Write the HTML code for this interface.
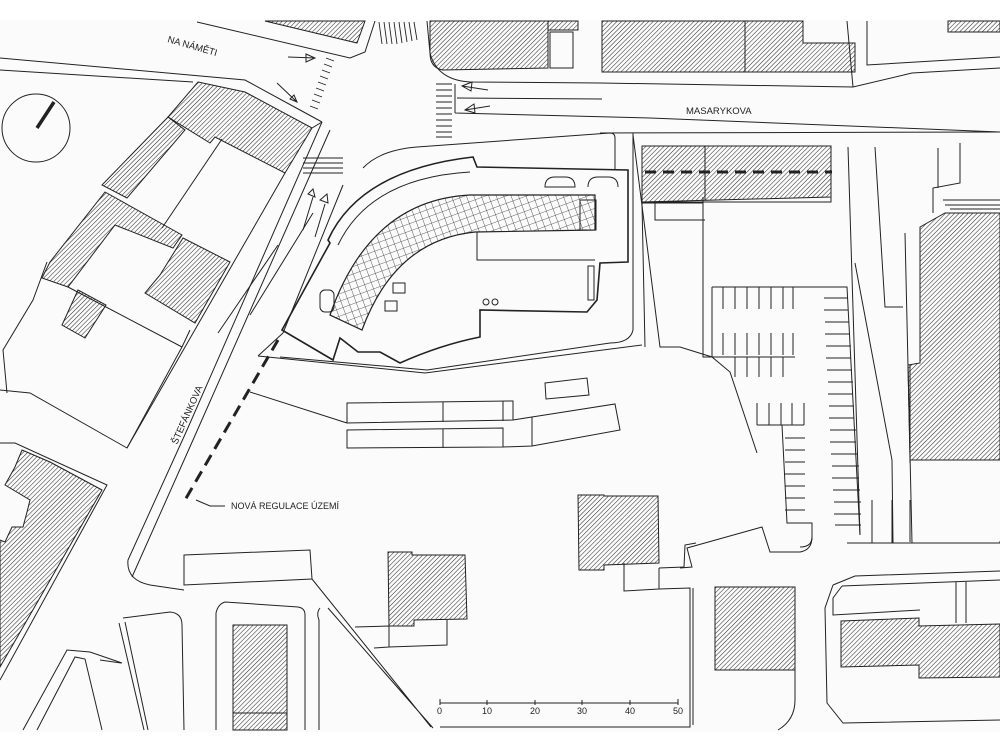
<!DOCTYPE html>
<html><head><meta charset="utf-8"><style>
html,body{margin:0;padding:0;background:#fff;}
svg{display:block;}
text{font-family:"Liberation Sans",sans-serif;fill:#222;}
</style></head><body>
<svg width="1000" height="750" viewBox="0 0 1000 750" xmlns="http://www.w3.org/2000/svg">
<defs>
<pattern id="h" width="3.2" height="3.2" patternUnits="userSpaceOnUse" patternTransform="rotate(45)">
<line x1="0" y1="0" x2="0" y2="3.2" stroke="#222" stroke-width="1"/></pattern>
<pattern id="g" width="7" height="7" patternUnits="userSpaceOnUse" patternTransform="rotate(-20)">
<path d="M0 0H7M0 0V7" stroke="#333" stroke-width="0.8" fill="none"/></pattern>
</defs>
<rect width="1000" height="750" fill="#fff"/>
<rect x="0" y="20" width="1000" height="712" fill="#fbfbfb"/>
<g fill="none" stroke="#222" stroke-width="1">
<!-- Na Namesti road -->
<path d="M197 22L350 58L365 52L375 21"/>
<path d="M0 58L245 80L300 110L322 122"/>
<path d="M0 70L193 82"/>
<!-- top-left hatched -->
<polygon points="265,21 365,21 357,43" fill="url(#h)"/>
<!-- crosswalks -->
<g stroke-width="0.9">
<path d="M306 58l8 3M304 64l8 3M302 70l8 3M300 76l8 3M298 82l8 3M296 88l8 3M294 94l8 3M292 100l8 3M290 106l8 3" transform="translate(20,0)"/>
<path d="M379 22l3 22M384 22l3 22M389 22l3 22M394 22l3 22M399 22l3 21M404 22l3 20M409 22l3 19M414 22l3 18"/>
<path d="M436 84h16M436 90h16M436 96h16M436 102h16M436 108h16M436 114h16M436 120h16M436 126h16M436 132h16M436 137h16"/>
<path d="M303 158h40M303 163h40M303 168h40M303 173h40" />
</g>
<!-- arrows -->
<path d="M288 57l27 1M306 54l9 4l-9 4z"/>
<path d="M277 83l20 19M290 99l7 3l-3 -7z"/>
<path d="M488 90l-26 -4M472 82l-10 4l9 5z"/>
<path d="M490 106l-25 4M474 104l-9 6l10 3z"/>
<path d="M303 230l10 -33M308 194l5 -5l2 8z"/>
<path d="M315 237l10 -33M320 200l7 -6l1 9z"/>
<!-- Masarykova -->
<path d="M427 21L430 53Q437 80 470 82L600 83L853 87L912 73L1000 68"/>
<path d="M867 21L867 65L1000 57"/>
<path d="M847 21L853 87"/>
<path d="M455 113L455 84M455 113L650 118L1000 132"/>
<path d="M457 98L602 99"/>
<path d="M600 133L1000 132"/>
<!-- top buildings -->
<path d="M430 21L548 21L548 68L443 70Q430 68 430 53Z" fill="url(#h)"/>
<rect x="548" y="21" width="30" height="9" fill="url(#h)"/>
<rect x="550" y="32" width="23" height="36"/>
<path d="M602 21L803 21L803 43L855 43L855 72L602 72Z" fill="url(#h)"/>
<path d="M745 21V72"/>
<path d="M948 21h52v11h-52z" fill="url(#h)"/>
<!-- compass -->
<circle cx="36" cy="128" r="34"/>
<line x1="37" y1="128" x2="54" y2="102" stroke-width="3.5"/>
<!-- left block hatched -->
<polygon points="198,82 245,92 312,128 285,173 215,137 210,143 168,117" fill="url(#h)"/>
<polygon points="168,117 185,130 127,198 102,185" fill="url(#h)"/>
<polygon points="105,192 182,235 173,248 115,225 68,287 42,278 50,262" fill="url(#h)"/>
<polygon points="183,238 230,262 195,323 145,293 160,275" fill="url(#h)"/>
<polygon points="78,290 106,305 85,338 62,325" fill="url(#h)"/>
<path d="M312 128L322 122M222 139L162 228M68 287L182 347L127 448L30 393L0 390M182 347L190 330"/>
<path d="M47 262L33 300L3 350L7 393"/>
<!-- Stefankova -->
<path d="M322 122L187 430L128 560Q126 580 150 585L184 590"/>
<path d="M330 130L193 440L132 577"/>
<path d="M285 173L127 448"/>
<path d="M218 333L278 245M250 315L313 213"/>
<path d="M343 185L283 333"/>
<path d="M283 333L258 356"/>
<!-- dashed regulation lines -->
<path d="M278 340L185 500" stroke-width="3" stroke-dasharray="12,7"/>
<path d="M645 172H832" stroke-width="3" stroke-dasharray="11,7"/>
<path d="M196 500L210 506H225"/>
<!-- plot around central building -->
<path d="M363 168Q380 150 417 147L610 133Q615 133 615 138V170"/>
<path d="M633 133V330Q630 343 610 343L427 370L280 357"/>
<path d="M258 356L425 373L642 345"/>
<!-- central building -->
<path d="M282 330L333 360L340 338L358 352L380 352L400 363Q440 345 480 337L480 310L587 312L597 300L600 263L628 262L628 170L477 167L473 157Q360 170 328 240L330 243Z" stroke-width="1.6"/>
<path d="M338 245Q370 178 470 172" />
<path d="M595 195L470 195Q370 200 330 315L362 330Q395 240 475 232L595 230Z" fill="url(#g)" stroke-width="1.2"/>
<path d="M477 232V260H595"/>
<path d="M545 187q0 -10 10 -10h10q10 0 10 10z"/><path d="M588 187q0 -10 10 -10h10q10 0 10 10"/>
<rect x="580" y="200" width="16" height="30"/>
<path d="M588 266V300h6V266z"/>
<circle cx="486" cy="302" r="3"/><circle cx="495" cy="302" r="3"/>
<rect x="393" y="283" width="12" height="10"/><rect x="385" y="301" width="12" height="10"/>
<rect x="320" y="290" width="14" height="22" rx="5"/>
<!-- open area rects -->
<path d="M347 403L513 401L513 420L347 423Z M443 402V422 M503 401V421"/>
<path d="M347 430L503 428L503 447L347 448Z M443 429V448"/>
<path d="M503 447L532 446L532 417L513 420M532 417L615 404L620 430L532 446"/>
<path d="M545 383L587 378L589 395L546 399Z"/>
<path d="M250 392L347 423"/>
<!-- parking area right -->
<path d="M642 146V202H831V146"/>
<path d="M642 146L831 146L831 197L642 202Z" fill="url(#h)"/>
<path d="M705 146V200"/>
<path d="M642 203L645 347M703 197V357L712 357M642 203H703M655 203V220H705"/>
<path d="M633 135L660 347L680 347L712 357L730 372L757 453"/>
<path d="M712 287H847L860 535M712 287V357H795"/>
<path d="M723 287v22M735 287v22M747 287v22M759 287v22M771 287v22M783 287v22M793 287v22"/>
<path d="M723 333v22M735 333v22M747 333v22M759 333v22M771 333v22M783 333v22M793 333v22"/>
<path d="M735 357v20M747 357v20M759 357v20M771 357v20M783 357v20"/>
<path d="M757 403v22M769 403v22M781 403v22M792 403v22M804 403v22M757 425H804"/>
<path d="M782 425L787 523H812V537Q812 547 800 547"/>
<path d="M785 438h20M785 450h20M785 462h20M785 474h20M785 486h20M785 498h20M785 510h20"/>
<path d="M824 298h24M824 310h24M825 322h24M825 334h25M826 346h25M826 358h25M827 370h25M828 382h25M828 394h25M829 406h25M829 418h25M830 430h26M830 442h26M831 454h26M832 466h27M832 478h27M833 490h27M834 502h27M834 514h27M835 525h26"/>
<path d="M848 147L860 535M855 263L892 460L893 543M875 147L885 307H903M905 233L912 543M938 148v40"/>
<path d="M847 543H1000V541M872 500V543M892 500V543M910 500V542"/>
<!-- right big hatched -->
<polygon points="920,227 945,213 1000,213 1000,460 910,460 908,365 920,363" fill="url(#h)"/>
<path d="M960 143V183L933 188V213M943 200H1000M945 205H1000M950 209H1000"/>
<path d="M910 365V463"/>
<!-- bottom center -->
<path d="M184 555L310 550L312 579L184 585Z"/>
<path d="M312 579L431 727M328 608L433 728M320 608Q316 613 319 620V730"/>
<path d="M216 613V730M225 602L298 607Q305 608 305 615V730M216 613Q218 604 225 602"/>
<rect x="233" y="625" width="54" height="105" fill="url(#h)"/><path d="M233 713H287"/>
<path d="M119 623L144 730M125 622L148 730M123 618L170 612Q182 613 182 625L184 730M100 660L121 663"/>
<polygon points="388,552 412,552 412,555 465,555 467,619 414,620 414,626 389,626" fill="url(#h)"/>
<path d="M389,626V647L447,645V620M355,627L389,626M374,648L389,647"/>
<polygon points="578,495 604,495 604,496 658,496 659,563 604,565 604,570 579,570" fill="url(#h)"/>
<path d="M624 563V591L659 589L690 588V727H440M659 568L684 567L685 545L696 543M659 568V589"/>
<path d="M680 568L692 567L687 548L762 527L770 552H800Q812 550 812 537"/>
<rect x="715" y="587" width="80" height="83" fill="url(#h)"/>
<path d="M795 670V700Q795 720 778 730M693 588V725"/>
<path d="M855 576L1000 571M833 585L855 576M833 585L825 608L827 703L843 723L1000 720"/>
<path d="M842 586L1000 580M842 586L833 598L833 615L920 610M956 582V623M966 582V623"/>
<polygon points="841,621 919,618 919,626 1000,624 1000,677 919,678 919,665 841,667" fill="url(#h)"/>
<!-- left bottom -->
<polygon points="22,450 50,462 102,490 0,667 0,540 5,542 12,527 23,527 27,512 30,500 5,485 15,467" fill="url(#h)"/>
<path d="M0 443L15 443L107 485L0 680"/>
<path d="M23 730L67 650L90 652L122 663M37 730L75 657L85 659L102 730"/>
<!-- scale -->
<path d="M440 703H678M440 699V705M487 700V705M535 700V705M582 700V705M630 700V705M678 699V705"/>
</g>
<g font-size="9">
<text x="167" y="42" transform="rotate(16 167 42)" font-size="9.5">NA NÁMĚTI</text>
<text x="686" y="114" font-size="9.5">MASARYKOVA</text>
<text x="177" y="445" transform="rotate(-66 177 445)" font-size="9.5">ŠTEFÁNKOVA</text>
<text x="231" y="509" font-size="9">NOVÁ  REGULACE  ÚZEMÍ</text>
<text x="437" y="714">0</text><text x="482" y="714">10</text><text x="530" y="714">20</text>
<text x="577" y="714">30</text><text x="625" y="714">40</text><text x="673" y="714">50</text>
</g>
</svg>
</body></html>
